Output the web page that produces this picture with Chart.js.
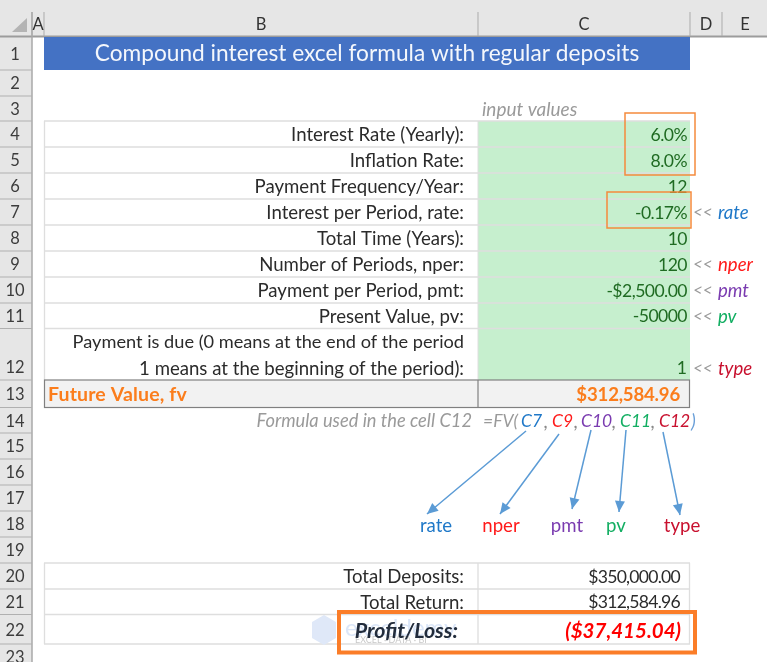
<!DOCTYPE html>
<html><head><meta charset="utf-8">
<style>html,body{margin:0;padding:0;background:#fff}canvas{display:block}</style>
<script src="https://cdn.jsdelivr.net/npm/chart.js@4"></script></head>
<body><canvas id="c" width="767" height="662"></canvas>
<script>
const FONT = 'Lato, "Open Sans", sans-serif';
const title = "Compound interest excel formula with regular deposits";
const colLetters = ["A","B","C","D","E"];
const colEdges = [32,44,478,690,722,767];
const rowNumbers = [1,2,3,4,5,6,7,8,9,10,11,12,13,14,15,16,17,18,19,20,21,22,23];
const rowEdges = [37,70,96,121,147,173,199,225,251,277,303,328.5,380,407.5,433,459,485,511,537,563,589,614.5,644,670];
const inputLabels = ["Interest Rate (Yearly):","Inflation Rate:","Payment Frequency/Year:","Interest per Period, rate:","Total Time (Years):","Number of Periods, nper:","Payment per Period, pmt:","Present Value, pv:"];
const inputValues = ["6.0%","8.0%","12","-0.17%","10","120","-$2,500.00","-50000"];
const dueLabels = ["Payment is due (0 means at the end of the period","1 means at the beginning of the period):"];
const dueValue = "1";
const resultLabel = "Future Value, fv";
const resultValue = "$312,584.96";
const formulaNote = "Formula used in the cell C12";
const argNames = ["rate","nper","pmt","pv","type"];
const argCells = ["C7","C9","C10","C11","C12"];
const argColors = ["#1f78c8","#ff1a1a","#7a3bb0","#12ae62","#c8102e"];
const argRows = [7,9,10,11,12];
const arrowStartX = [526,559,591,626,663];
const arrowStartY = [431,434,430,430,432];
const arrowTipX = [427,500,572,619,680];
const arrowTipY = [514,514,509,512,515];
const summaryLabels = ["Total Deposits:","Total Return:"];
const summaryValues = ["$350,000.00","$312,584.96"];
const plLabel = "Profit/Loss:";
const plValue = "($37,415.04)";

const sheetPlugin = {
  id:'sheet',
  beforeDatasetsDraw(ch){
    const g=ch.ctx, X=v=>ch.scales.x.getPixelForValue(v), Y=v=>ch.scales.y.getPixelForValue(v);
    const rect=(x0,y0,x1,y1,c)=>{g.fillStyle=c;g.fillRect(X(x0),Y(y0),X(x1)-X(x0),Y(y1)-Y(y0));};
    const hl=(x0,x1,y,c,w=1)=>{g.strokeStyle=c;g.lineWidth=w;g.beginPath();g.moveTo(X(x0),Y(y));g.lineTo(X(x1),Y(y));g.stroke();};
    const vl=(x,y0,y1,c,w=1)=>{g.strokeStyle=c;g.lineWidth=w;g.beginPath();g.moveTo(X(x),Y(y0));g.lineTo(X(x),Y(y1));g.stroke();};
    const box=(x0,y0,x1,y1,c,w)=>{g.strokeStyle=c;g.lineWidth=w;g.strokeRect(X(x0),Y(y0),X(x1)-X(x0),Y(y1)-Y(y0));};
    const txt=(s,x,y,o={})=>{g.font=`${o.style||''} ${o.weight||''} ${o.size||18.6}px ${FONT}`;g.letterSpacing=o.ls||'0px';g.fillStyle=o.color||'#2b2b2b';g.textAlign=o.align||'left';g.textBaseline='middle';g.fillText(s,X(x),Y(y));g.letterSpacing='0px';};
    const mid=i=>(rowEdges[i]+rowEdges[i+1])/2;
    const R=colEdges[3], L=colEdges[1], M=colEdges[2];
    // headers
    rect(0,0,767,36,'#e6e6e6'); rect(0,36,32,662,'#e6e6e6');
    hl(0,767,36.5,'#9c9c9c',2); vl(32,12,662,'#a8a8a8',1.5);
    g.fillStyle='#b4b4b4';g.beginPath();g.moveTo(X(27),Y(18));g.lineTo(X(27),Y(32));g.lineTo(X(12),Y(32));g.fill();
    colEdges.slice(0,5).forEach(e=>vl(e,12,36,'#ababab',1));
    colLetters.forEach((c,i)=>txt(c,i==4?745:(colEdges[i]+colEdges[i+1])/2,24.5,{size:16.5,color:'#333',align:'center'}));
    rowNumbers.forEach((n,i)=>{
      hl(0,32,rowEdges[i+1],'#b0b0b0',1);
      const y=(n==12)?rowEdges[i+1]-13:mid(i);
      txt(String(n),15,y+1,{size:16.5,color:'#3c3c3c',align:'center'});
    });
    // title
    rect(L,rowEdges[0],R,rowEdges[1],'#4472c4');
    txt(title,367,54,{size:22.7,color:'#f4f7fc',align:'center'});
    txt("input values",482,110,{style:'italic',size:19,color:'#9a9a9a'});
    // input table
    rect(M,rowEdges[3],R,rowEdges[12],'#c6efce');
    for(let i=3;i<=11;i++) hl(L,R,rowEdges[i],'#dedede',1.3);
    vl(L+.5,rowEdges[3],rowEdges[12],'#dedede',1.3);
    vl(M,rowEdges[3],rowEdges[12],'#dedede',1);
    inputLabels.forEach((s,i)=>{
      txt(s,464,mid(i+3)+1,{align:'right'});
      txt(inputValues[i],687,mid(i+3)+1,{color:'#1f6b22',align:'right',size:17.6,ls:'-0.55px'});
    });
    txt(dueLabels[0],464,342.5,{align:'right',size:18.2}); txt(dueLabels[1],464,368.5,{align:'right'});
    txt(dueValue,687,368.5,{color:'#1f6b22',align:'right',size:17.6});
    // result row
    rect(L,rowEdges[12],R,rowEdges[13],'#f2f2f2');
    box(L+.5,rowEdges[12],R-.5,rowEdges[13],'#808080',1.2); vl(M,rowEdges[12],rowEdges[13],'#808080',1.2);
    txt(resultLabel,48,395,{weight:'bold',color:'#fb7d1c',size:19.5,ls:'0.15px'});
    txt(resultValue,680,395,{weight:'bold',color:'#fb7d1c',align:'right',size:18.6,ls:'-0.2px'});
    // formula
    txt(formulaNote,472,421.5,{style:'italic',color:'#9a9a9a',align:'right',size:18.3});
    txt("=FV(",483,421.5,{style:'italic',color:'#9a9a9a',size:17.5});
    const cellX=[521,552,581,620,659], commaX=[544,574,612,651];
    argCells.forEach((s,i)=>txt(s,cellX[i],421.5,{style:'italic',color:argColors[i],size:17.5}));
    commaX.forEach(x=>txt(",",x,421.5,{style:'italic',color:'#8a8a8a'}));
    txt(")",691,421.5,{style:'italic',color:'#6a9fd8'});
    // side tags
    argNames.forEach((s,i)=>{
      const y=argRows[i]==12?368.5:mid(argRows[i]-1)+1;
      txt("<<",693,y,{style:'italic',color:'#9a9a9a',size:17});
      txt(s,718,y,{style:'italic',color:argColors[i]});
    });
    // arrow labels
    const lx=[436,501,567,616,682];
    argNames.forEach((s,i)=>txt(s,lx[i],525.5,{color:argColors[i],align:'center'}));
    // summary table
    for(let i=19;i<=22;i++) hl(L,R,rowEdges[i],'#dedede',1.3);
    vl(L+.5,rowEdges[19],rowEdges[22],'#dedede',1.3); vl(M,rowEdges[19],rowEdges[22],'#dedede',1.3); vl(R-.5,rowEdges[19],rowEdges[22],'#dedede',1.3);
    // watermark
    g.fillStyle='#dfe8f8';g.beginPath();[[324,615],[336,622],[336,638],[324,645],[312,638],[312,622]].forEach((p,i)=>i?g.lineTo(X(p[0]),Y(p[1])):g.moveTo(X(p[0]),Y(p[1])));g.fill();
    txt("exceldemy",345,628,{size:24,color:'#dbe6f8'});
    txt("EXCEL · DATA · BI",355,640,{size:9,color:'#c8c8c8'});
    summaryLabels.forEach((s,i)=>{
      txt(s,464,mid(19+i)+1,{align:'right'}); txt(summaryValues[i],680,mid(19+i)+1,{align:'right',size:17.6,ls:'-0.75px'});
    });
    txt(plLabel,458,631,{style:'italic',weight:'bold',size:21.4,align:'right',color:'#222c3c'});
    txt(plValue,681,631,{style:'italic',weight:'bold',size:20.5,align:'right',color:'#ff0000'});
    // highlight boxes
    box(625,113,695,175,'#f58b3c',1.5); box(607,192,691,228,'#f58b3c',1.5);
    box(339,612,695,652.5,'#fb7d28',4);
  },
  afterDatasetsDraw(ch){
    const g=ch.ctx, X=v=>ch.scales.x.getPixelForValue(v), Y=v=>ch.scales.y.getPixelForValue(v);
    arrowTipX.forEach((_,i)=>{
      const tx=X(arrowTipX[i]),ty=Y(arrowTipY[i]),a=Math.atan2(ty-Y(arrowStartY[i]),tx-X(arrowStartX[i]));
      g.fillStyle='#5b9bd5';g.beginPath();g.moveTo(tx,ty);
      [[-11,5],[-11,-5]].forEach(p=>g.lineTo(tx+p[0]*Math.cos(a)-p[1]*Math.sin(a),ty+p[0]*Math.sin(a)+p[1]*Math.cos(a)));
      g.fill();
    });
  }
};
new Chart(document.getElementById('c'),{
  type:'scatter',
  data:{datasets:argNames.map((n,i)=>({label:n,showLine:true,pointRadius:0,borderWidth:1.5,borderColor:'#5b9bd5',
    data:[{x:arrowStartX[i],y:arrowStartY[i]},{x:arrowTipX[i],y:arrowTipY[i]}]}))},
  options:{responsive:false,animation:false,devicePixelRatio:1,layout:{padding:0},
    plugins:{legend:{display:false},tooltip:{enabled:false},title:{display:false}},
    scales:{x:{type:'linear',min:0,max:767,display:false},y:{type:'linear',min:0,max:662,reverse:true,display:false}}},
  plugins:[sheetPlugin]
});
</script></body></html>
